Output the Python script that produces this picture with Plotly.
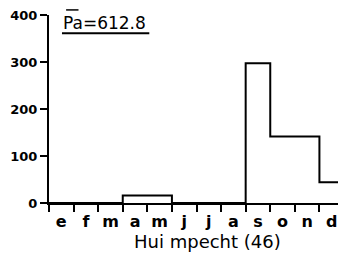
import plotly.graph_objects as go

months = ["e", "f", "m", "a", "m", "j", "j", "a", "s", "o", "n", "d"]
values = [0, 0, 0, 16, 16, 0, 0, 0, 298, 142, 142, 44]
y_ticks = [0, 100, 200, 300, 400]
title_text = "Pa=612.8"
axis_title = "Hui mpecht (46)"

edges = list(range(len(months) + 1))
step_y = values + [0]

fig = go.Figure()
fig.add_trace(go.Scatter(
    x=edges, y=step_y, mode="lines", line=dict(shape="hv", color="black", width=2),
    cliponaxis=False, showlegend=False, hoverinfo="skip"))
# invisible trace to activate the label axis
fig.add_trace(go.Scatter(x=[0, 12], y=[0, 0], xaxis="x2", mode="lines",
                         line=dict(width=0), showlegend=False, hoverinfo="skip"))

# page body has an 8px default margin: figure is sized/offset to compensate
fig.update_layout(
    width=338, height=248,
    margin=dict(l=41, r=2, t=7, b=53, autoexpand=False),
    paper_bgcolor="white", plot_bgcolor="white",
    font=dict(family="DejaVu Sans", color="black"),
    xaxis=dict(range=[0, 12], tickvals=edges, ticktext=[""] * len(edges),
               ticks="outside", ticklen=7, tickwidth=1.5, tickcolor="black",
               showline=True, linecolor="black", linewidth=2,
               showgrid=False, zeroline=False, fixedrange=True),
    xaxis2=dict(range=[0, 12], overlaying="x", side="bottom",
                tickvals=[i + 0.5 for i in range(len(months))], ticktext=months,
                ticks="outside", ticklen=4, tickcolor="rgba(0,0,0,0)",
                tickfont=dict(size=16, family="DejaVu Sans", weight="bold"),
                showline=False, showgrid=False, zeroline=False),
    yaxis=dict(range=[0, 401], tickvals=y_ticks, automargin=False,
               ticks="outside", ticklen=7, tickwidth=1.5, tickcolor="black",
               tickfont=dict(size=13, family="DejaVu Sans", weight="bold"),
               showline=True, linecolor="black", linewidth=2,
               showgrid=False, zeroline=False, fixedrange=True),
)

fig.add_annotation(text=title_text, xref="paper", yref="paper", x=0.189, y=0.957,
                   xanchor="center", yanchor="middle", showarrow=False,
                   font=dict(size=17, family="DejaVu Sans"))
fig.add_annotation(text=axis_title, xref="paper", yref="paper", x=0.537, y=-0.206,
                   xanchor="center", yanchor="middle", showarrow=False,
                   font=dict(size=18, family="DejaVu Sans"))
# underline and overline of the title
fig.add_shape(type="line", xref="paper", yref="paper", x0=0.044, x1=0.340,
              y0=0.903, y1=0.903, line=dict(color="black", width=2))
fig.add_shape(type="line", xref="paper", yref="paper", x0=0.058, x1=0.100,
              y0=1.027, y1=1.027, line=dict(color="black", width=1.5))

fig.write_html("out.html")
